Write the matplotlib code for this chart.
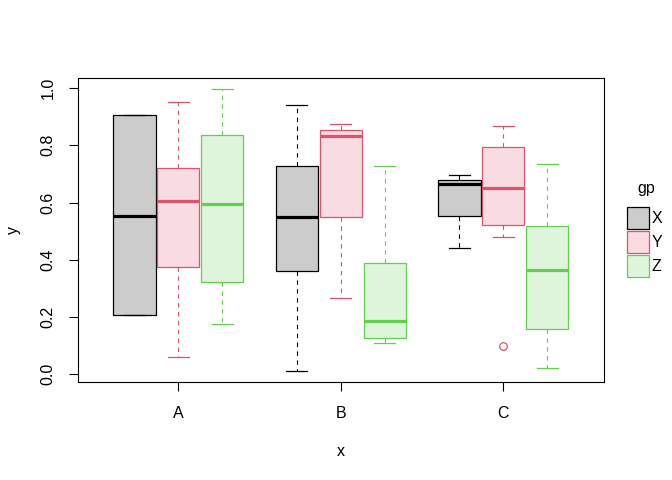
import matplotlib
matplotlib.use("Agg")
import matplotlib.pyplot as plt
from matplotlib.colors import to_rgba
from matplotlib.patches import Rectangle

plt.rcParams['font.family'] = ['Liberation Sans', 'DejaVu Sans']

# Data (one entry per x category A, B, C).
categories = ["A", "B", "C"]
groups = ["X", "Y", "Z"]
colors = ["black", "#DF536B", "#61D04F"]

x_whislo = [0.206, 0.012, 0.440]
x_q1     = [0.206, 0.361, 0.553]
x_med    = [0.554, 0.549, 0.665]
x_q3     = [0.904, 0.726, 0.680]
x_whishi = [0.904, 0.940, 0.696]
x_fliers = [[], [], []]

y_whislo = [0.061, 0.267, 0.480]
y_q1     = [0.373, 0.551, 0.522]
y_med    = [0.604, 0.832, 0.650]
y_q3     = [0.720, 0.853, 0.793]
y_whishi = [0.950, 0.875, 0.866]
y_fliers = [[], [], [0.098]]

z_whislo = [0.175, 0.108, 0.022]
z_q1     = [0.324, 0.126, 0.158]
z_med    = [0.594, 0.186, 0.365]
z_q3     = [0.837, 0.387, 0.518]
z_whishi = [0.996, 0.727, 0.734]
z_fliers = [[], [], []]

series = [
    (x_whislo, x_q1, x_med, x_q3, x_whishi, x_fliers),
    (y_whislo, y_q1, y_med, y_q3, y_whishi, y_fliers),
    (z_whislo, z_q1, z_med, z_q3, z_whishi, z_fliers),
]

offsets = [-0.27, 0.0, 0.27]
width = 0.26

fig = plt.figure(figsize=(6.72, 4.8), dpi=100)
W, H = 672, 480
ax = fig.add_axes([77.5 / W, 1 - 382 / H, (604 - 77.5) / W, (382 - 78) / H])

for k, (lo, q1, med, q3, hi, fl) in enumerate(series):
    col = colors[k]
    stats = []
    for i in range(len(categories)):
        stats.append(dict(whislo=lo[i], q1=q1[i], med=med[i], q3=q3[i],
                          whishi=hi[i], fliers=fl[i]))
    pos = [i + 1 + offsets[k] for i in range(len(categories))]
    ax.bxp(stats, positions=pos, widths=width, capwidths=width / 2,
           patch_artist=True, manage_ticks=False,
           boxprops=dict(facecolor=to_rgba(col, 0.2), edgecolor=col, linewidth=0.9),
           medianprops=dict(color=col, linewidth=2.3, solid_capstyle="butt"),
           whiskerprops=dict(color=col, linewidth=0.8, linestyle=(0, (4, 4))),
           capprops=dict(color=col, linewidth=0.9),
           flierprops=dict(marker="o", markerfacecolor="none",
                           markeredgecolor=col, markersize=5.5, markeredgewidth=0.9))

ax.set_xlim(0.38, 3.62)
ax.set_ylim(-0.027, 1.035)
ax.set_xticks([1, 2, 3])
ax.set_xticklabels(categories)
ax.set_yticks([0, 0.2, 0.4, 0.6, 0.8, 1.0])
ax.set_yticklabels(["0.0", "0.2", "0.4", "0.6", "0.8", "1.0"], rotation=90, va="center")
ax.tick_params(labelsize=11.5, length=6.5, width=0.8, pad=11)
ax.tick_params(axis="y", pad=9.5)

for s in ax.spines.values():
    s.set_linewidth(0.8)

ax.set_xlabel("x", fontsize=11.5)
ax.set_ylabel("y", fontsize=11.5)
ax.xaxis.set_label_coords(0.5, (382 - 451) / 304)
ax.xaxis.label.set_va("center")
ax.yaxis.set_label_coords((13 - 77.5) / 526.5, 0.5)
ax.yaxis.label.set_va("center")

# Legend drawn by hand like R's legend()
fig.text(646 / W, 1 - 189 / H, "gp", ha="center", va="center", fontsize=11.5)
for k, name in enumerate(groups):
    top = 207.3 + 24 * k
    fig.patches.append(Rectangle((626.5 / W, 1 - (top + 22) / H), 22.5 / W, 22 / H,
                                 transform=fig.transFigure,
                                 facecolor=to_rgba(colors[k], 0.2),
                                 edgecolor=colors[k], linewidth=0.9))
    fig.text(652 / W, 1 - (top + 11) / H, name, ha="left", va="center", fontsize=11.5)

fig.savefig("out.png", dpi=100)
